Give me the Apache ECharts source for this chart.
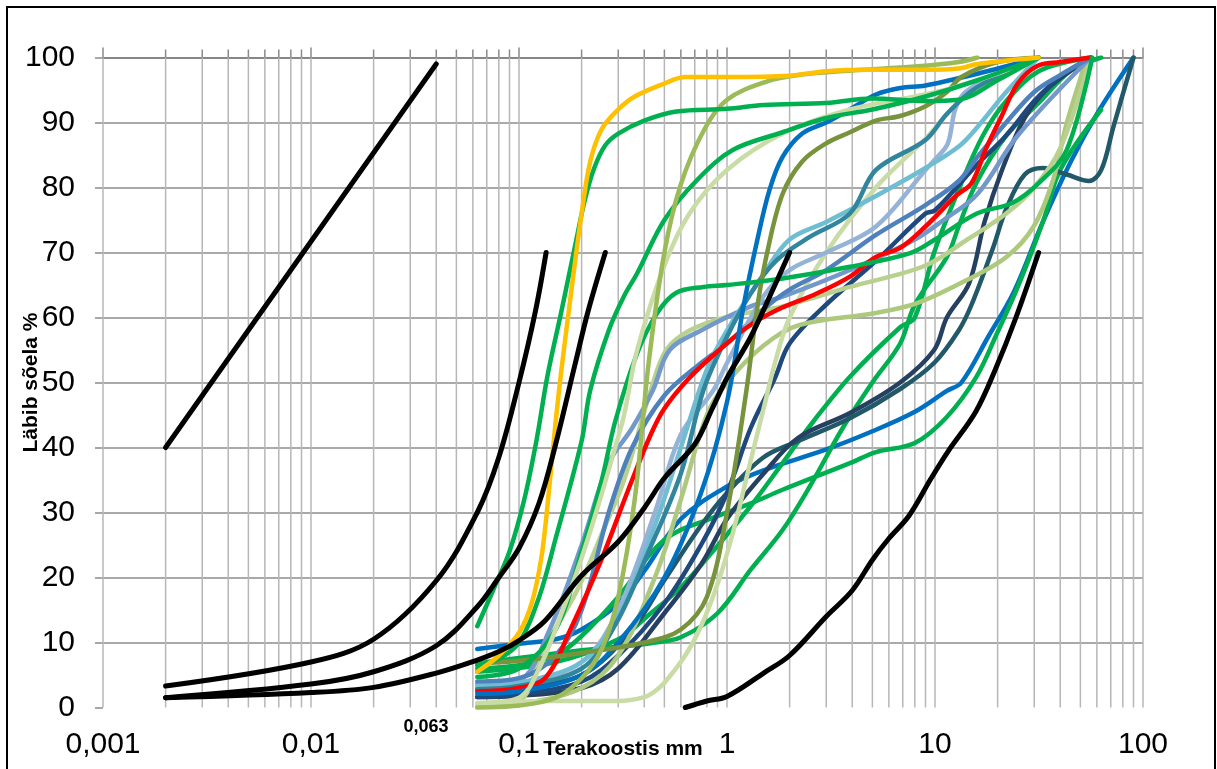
<!DOCTYPE html>
<html><head><meta charset="utf-8">
<script src="https://cdn.jsdelivr.net/npm/echarts@6/dist/echarts.min.js"></script>
<style>html,body{margin:0;padding:0;background:#fff}#c{width:1217px;height:769px}</style>
</head><body><div id="c"></div>
<script>
// ---- axis / tick data ----
const xMin = 0.001, xMax = 100;
const yTicks = [0, 10, 20, 30, 40, 50, 60, 70, 80, 90, 100];
const xTitle = 'Terakoostis mm';
const yTitle = 'Läbib sõela %';

// ---- black reference curves ----
const line1L = [[0.002,40],[0.04,99]];
const black1 = [[0.002,3.3],[0.01,7],[0.02,10.5],[0.04,19.5],[0.063,30],[0.08,38.5],[0.1,50],[0.12,61],[0.135,70]];
const black2 = [[0.002,1.5],[0.01,3.6],[0.02,5.5],[0.04,9.5],[0.063,15.5],[0.08,20],[0.1,24.5],[0.125,31.5],[0.15,40.5],[0.185,52.5],[0.215,61],[0.26,70]];
const black3 = [[0.002,1.5],[0.01,2.3],[0.02,3.1],[0.04,5.3],[0.063,7.3],[0.08,8.6],[0.1,10.3],[0.133,13.3],[0.2,20.3],[0.3,25.5],[0.4,30.7],[0.5,35.3],[0.7,40.5],[0.85,46],[1,50.7],[1.3,57],[1.7,65],[2,70]];
const black4 = [[0.63,0],[0.8,1],[1,1.7],[1.5,5.3],[2,8],[3,14],[4,18],[5,22.7],[6,26],[7.5,29.5],[9.6,35.3],[11.5,39.3],[15.7,45.5],[19.5,52],[24.5,60],[31.5,70]];

// ---- sample curves ----
const yellow = [[0.063,5.5],[0.08,8],[0.1,11.5],[0.115,16],[0.128,23],[0.137,31],[0.149,43],[0.16,52],[0.18,65],[0.2,76],[0.22,84],[0.25,89],[0.3,92],[0.36,94],[0.5,96],[0.63,97],[1,97],[2,97.2],[3,97.9],[5,98.1],[9,98.1],[13,98.3],[16,99],[31.5,100]];
const greenA = [[0.063,12.5],[0.075,18],[0.09,24],[0.106,32],[0.122,41.5],[0.137,51],[0.16,61],[0.186,71],[0.207,78],[0.23,83],[0.26,86.5],[0.3,88.3],[0.4,90.3],[0.57,91.7],[1,92.1],[1.5,92.7],[3,93],[5,93.7],[9,93.3],[13,93.5],[20,96.5],[31.5,100]];
const oliveLight = [[0.063,0],[0.1,0.3],[0.15,1.5],[0.2,4.5],[0.25,9],[0.3,17],[0.36,32],[0.42,53],[0.5,70],[0.6,80.5],[0.78,89],[1,93.5],[1.55,96.3],[2.2,97.3],[4,98],[8,98.6],[13,99.3],[16,100]];
const green2 = [[0.063,6.5],[0.08,7.5],[0.1,10],[0.125,17],[0.15,26],[0.2,41],[0.22,48.8],[0.27,58],[0.32,63.3],[0.37,66.8],[0.5,75],[0.72,81.2],[1.07,85.8],[1.85,88.5],[3,90.7],[5,92],[9,94],[16,96.5],[31.5,100]];
const pale1 = [[0.063,0.6],[0.1,1.5],[0.125,6],[0.167,16],[0.2,23],[0.24,31],[0.29,40],[0.32,45],[0.37,55],[0.5,68],[0.66,76],[1,82.7],[1.85,88.3],[3.9,92],[8,94],[12,95.3],[20,97.5],[31.5,100]];
const greenB = [[0.063,4.7],[0.1,6],[0.15,12],[0.2,24],[0.25,35],[0.29,44],[0.37,54.5],[0.46,60.6],[0.57,63.8],[0.77,64.7],[1,65],[1.85,66],[3.9,67.8],[7.6,69.9],[10,72],[15.9,76],[23.5,77.6],[31.6,80.7],[43,85.8],[57,100]];
const oliveDark = [[0.063,6.8],[0.1,7.2],[0.2,8.4],[0.4,10],[0.6,12],[0.8,17],[1,30],[1.24,48.8],[1.4,61.7],[1.56,70],[1.85,79],[2.3,84],[3,86.8],[3.9,88.5],[5.2,90.3],[6.8,91],[9,92.5],[11.4,94.7],[13.4,97],[20,99.3],[31.5,100]];
const blueSteep = [[0.063,2.1],[0.1,2.5],[0.2,5],[0.3,10],[0.5,20],[0.75,33],[1,47],[1.2,61.7],[1.4,72],[1.6,79.6],[1.85,84.7],[2.3,88.3],[3,90],[3.9,92],[5.2,94.3],[6.8,95.3],[9,95.7],[16,97.5],[31.5,100]];
const teal = [[0.063,2.8],[0.1,3.3],[0.2,6],[0.29,12.7],[0.42,24],[0.6,36],[0.77,48.8],[0.98,56.5],[1.3,63.7],[1.73,68.8],[2.5,72.4],[3.9,76],[5.2,82.7],[9,87.3],[11.4,91.3],[15.7,95.3],[31.5,100]];
const lightCyan = [[0.063,3.3],[0.1,3.8],[0.2,7],[0.3,14],[0.45,28],[0.6,40],[0.8,52],[1,58],[1.5,66.7],[2,72],[3,74.7],[5.2,78.7],[9,83],[13,86.3],[16,89.3],[22,94.7],[31.5,100]];
const lightSteel = [[0.063,3],[0.1,3.5],[0.2,7],[0.3,15],[0.45,30],[0.6,42],[0.86,48.8],[1,53],[1.5,63.3],[2,67.3],[3,70],[5.2,74],[9,82.7],[10,84.3],[11.5,86.7],[12.5,92],[14,94.7],[20,97.3],[31.5,100]];
const steelBlue = [[0.063,4],[0.1,4.5],[0.15,8],[0.2,15],[0.27,30],[0.35,40],[0.5,48],[0.75,53],[1,56],[1.5,61.3],[2,64.3],[3,67.3],[5.2,72.7],[9,77.3],[13,81],[16,84.7],[22,90],[30,94.7],[40,97.3],[56,100]];
const medSteel = [[0.063,3.6],[0.1,4.2],[0.14,11.9],[0.2,25],[0.27,37.6],[0.35,43],[0.44,48.8],[0.53,55],[0.75,58],[1.3,61.7],[1.85,63.2],[3.9,67.3],[8,72],[11,75],[16,79],[25,88],[56,100]];
const red = [[0.063,2.5],[0.1,3],[0.135,4.7],[0.176,11.9],[0.245,22.2],[0.34,34],[0.43,42],[0.5,46],[0.65,50.5],[0.88,54.5],[1.25,58.5],[1.7,61],[2.7,63.7],[3.9,66.3],[5.2,69.3],[6.8,70.7],[9,74],[12.6,78.7],[15,80.7],[17.6,86],[20.7,90.7],[25,96],[31,98.7],[40,99.3],[56,100]];
const navy = [[0.063,1.6],[0.1,2],[0.2,4],[0.3,8],[0.5,16],[0.75,25],[1,33],[1.3,43],[1.7,50.7],[2,56],[3,62],[5.2,68.7],[9,76],[10,76.5],[15.7,83.3],[22,88],[30,93.3],[40,97],[56,100]];
const navy2 = [[0.063,1.6],[0.1,1.8],[0.2,3],[0.3,6],[0.5,14.5],[0.75,22],[1,29],[1.5,36],[2.2,41.5],[3.9,45.3],[6.8,50],[9.9,55],[11.4,60],[14.6,65.3],[17.3,74.7],[21,82.7],[27,90.7],[35,95.3],[56,100]];
const darkSlate = [[0.063,2.8],[0.1,3.2],[0.2,5],[0.35,12],[0.5,19.6],[0.75,28],[1,33],[1.5,38.5],[2.2,41],[3.9,44.5],[6.8,49],[9.9,53],[13,58],[15,62],[19,70.7],[22,76.7],[27,82],[33,83],[43,82],[55,81],[63,82.7],[72,89.3],[90,100]];
const blueLow = [[0.063,9],[0.1,9.8],[0.15,10.5],[0.2,12],[0.3,16],[0.4,21],[0.6,29],[1,34],[1.5,36.5],[3,39.7],[5,42.5],[8,45.5],[11.4,48.7],[13.4,50],[18,57],[24,64],[33,74.7],[45,84],[60,91.3],[90,100]];
const greenC = [[0.063,6],[0.1,6.5],[0.15,8],[0.2,11],[0.3,17],[0.5,25.8],[0.89,29.4],[1.3,31.4],[1.85,33.5],[3.9,37.6],[5.2,39.3],[8,40.7],[11.4,44.7],[15.7,50.7],[19.7,57.3],[25,64.7],[33,74.7],[40,82.7],[63,92]];
const greenD = [[0.063,5.5],[0.15,7],[0.3,10.5],[0.43,14.5],[0.6,18.5],[0.89,24.7],[1.3,31],[1.85,37.6],[2.6,44],[3.9,50.9],[6.8,58.5],[8,60],[9.9,70],[13.4,80.7],[17,88],[22,93.3],[32,98],[56,100]];
const greenF = [[0.063,6.8],[0.2,8.8],[0.43,9.9],[0.6,10.8],[0.9,14.5],[1.3,21.2],[1.85,27.3],[2.5,34],[3.6,43],[5,50],[6.8,56],[8,62],[11.4,69.3],[13,74],[15.8,80.7],[22,88],[31.5,93],[45,98],[63,100]];
const lightOliveA = [[0.063,0.2],[0.1,1],[0.133,9.3],[0.19,18],[0.26,28],[0.32,35],[0.43,48.8],[0.51,55],[0.66,58],[1,60.1],[1.85,61.7],[3.9,64.7],[9,68],[14.3,72],[22,76],[30,80],[40,86],[56,100]];
const lightOliveB = [[0.063,0],[0.1,0.5],[0.2,3],[0.3,8],[0.45,20],[0.6,32],[0.8,45],[1,50],[1.5,55.7],[2.2,58.8],[5.2,60.7],[8.2,62.2],[14.3,65.8],[22.2,69.4],[29.8,74],[37,81.2],[43,89.9],[54,100]];
const pale2 = [[0.063,0.7],[0.15,1],[0.3,1],[0.4,1.6],[0.45,2.5],[0.5,3.8],[0.63,8],[0.75,12.5],[0.9,19],[1.07,27],[1.3,38],[1.5,46],[1.7,53],[2,60],[3,70],[5.2,80],[9,87.5],[14,94],[31.5,100]];

const sampleCurves = [
  ['blueLow', blueLow, '#0070C0'],
  ['greenC', greenC, '#00B050'],
  ['greenD', greenD, '#00B050'],
  ['greenF', greenF, '#00B050'],
  ['darkSlate', darkSlate, '#215968'],
  ['navy2', navy2, '#254061'],
  ['navy', navy, '#1F497D'],
  ['lightOliveB', lightOliveB, '#ADC97E'],
  ['lightOliveA', lightOliveA, '#B9D18E'],
  ['pale2', pale2, '#C9DCA5'],
  ['medSteel', medSteel, '#7399CB'],
  ['steelBlue', steelBlue, '#4F81BD'],
  ['lightSteel', lightSteel, '#95B3D7'],
  ['lightCyan', lightCyan, '#6FBDD2'],
  ['teal', teal, '#31859C'],
  ['red', red, '#FF0000'],
  ['blueSteep', blueSteep, '#0070C0'],
  ['oliveDark', oliveDark, '#77933C'],
  ['greenB', greenB, '#00B050'],
  ['pale1', pale1, '#C9DCA5'],
  ['green2', green2, '#00B050'],
  ['oliveLight', oliveLight, '#9BBB59'],
  ['greenA', greenA, '#00B050'],
  ['yellow', yellow, '#FFC000']
];
const blackCurves = [['1L', line1L], ['1', black1], ['2', black2], ['3', black3], ['4', black4]];
const curveLabels = [[0.0041,67.6,'1L'],[0.0767,53,'1'],[0.155,49.8,'2'],[0.608,43.8,'3'],[9.68,40.1,'4']];

// vertical grid values (decades and 2..9 subdivisions)
const gridX = [];
for (let e = -3; e <= 1; e++) for (let k = 1; k <= 9; k++) gridX.push([+(k * Math.pow(10, e)).toPrecision(3), k === 1 ? 1 : 0]);
gridX.push([100, 1]);

const FONT = 'Liberation Sans';
const chart = echarts.init(document.getElementById('c'), null, {renderer: 'canvas'});

const series = [];
series.push({
  type: 'custom', name: 'vgrid', data: gridX, clip: false, silent: true, z: 1,
  renderItem: function (params, api) {
    const x = api.value(0), major = api.value(1);
    const top = api.coord([x, 100]), bot = api.coord([x, 0]);
    return {type: 'group', children: [
      {type: 'line', shape: {x1: top[0], y1: top[1], x2: bot[0], y2: bot[1]}, style: {stroke: '#b7b7b7', lineWidth: 1.5}},
      {type: 'line', shape: {x1: top[0], y1: top[1] - (major ? 10 : 8), x2: top[0], y2: top[1]}, style: {stroke: '#8a8a8a', lineWidth: 1.5}}
    ]};
  }
});
sampleCurves.forEach(function (c) {
  series.push({type: 'line', name: c[0], data: c[1], smooth: 0.35, symbol: 'none', z: 3,
    lineStyle: {color: c[2], width: 4.5, cap: 'round', join: 'round'}, silent: true});
});
blackCurves.forEach(function (c) {
  series.push({type: 'line', name: c[0], data: c[1], smooth: 0.35, symbol: 'none', z: 4,
    lineStyle: {color: '#000', width: 5, cap: 'round', join: 'round'}, silent: true});
});
series.push({type: 'scatter', name: 'labels', data: curveLabels, symbolSize: 1, z: 6, silent: true,
  itemStyle: {opacity: 0},
  label: {show: true, position: 'inside', formatter: function (p) { return p.data[2]; },
    fontFamily: FONT, fontWeight: 'bold', fontSize: 19, color: '#000'}});

function fmt(v) { return parseFloat(Number(v).toPrecision(4)).toString().replace('.', ','); }

chart.setOption({
  animation: false,
  backgroundColor: '#fff',
  grid: {left: 103, right: 74, top: 57.5, bottom: 61.5, containLabel: false, outerBoundsMode: 'none'},
  xAxis: [{
    type: 'log', logBase: 10, min: xMin, max: xMax, position: 'bottom',
    axisLine: {show: false}, axisTick: {show: false}, splitLine: {show: false},
    axisLabel: {formatter: fmt, fontFamily: FONT, fontSize: 30, color: '#000', margin: 22},
    name: xTitle, nameLocation: 'middle', nameGap: 31, nameMoveOverlap: false,
    nameTextStyle: {fontFamily: FONT, fontWeight: 'bold', fontSize: 21, color: '#000'}
  }, {
    type: 'log', logBase: 10, min: xMin, max: xMax, position: 'top',
    axisLine: {show: true, lineStyle: {color: '#868686', width: 2}},
    axisTick: {show: false}, axisLabel: {show: false}, splitLine: {show: false}
  }],
  yAxis: {
    type: 'value', min: yTicks[0], max: yTicks[yTicks.length - 1], interval: 10,
    axisLine: {show: false},
    axisTick: {show: true, length: 8, lineStyle: {color: '#8a8a8a', width: 1.5}},
    axisLabel: {fontFamily: FONT, fontSize: 30, color: '#000', margin: 28},
    splitLine: {show: true, showMinLine: false, lineStyle: {color: '#8c8c8c', width: 1.5}},
    name: yTitle, nameLocation: 'middle', nameGap: 61, nameMoveOverlap: false,
    nameTextStyle: {fontFamily: FONT, fontWeight: 'bold', fontSize: 21, color: '#000'}
  },
  series: series,
  graphic: [
    {type: 'rect', shape: {x: 7, y: 7, width: 1208, height: 800}, style: {fill: 'none', stroke: '#000', lineWidth: 2}, silent: true},
    {type: 'text', x: 426, y: 727, style: {text: '0,063', font: 'bold 18px "Liberation Sans"', fill: '#000', textAlign: 'center', textVerticalAlign: 'middle'}, silent: true}
  ]
});
</script>
</body></html>
